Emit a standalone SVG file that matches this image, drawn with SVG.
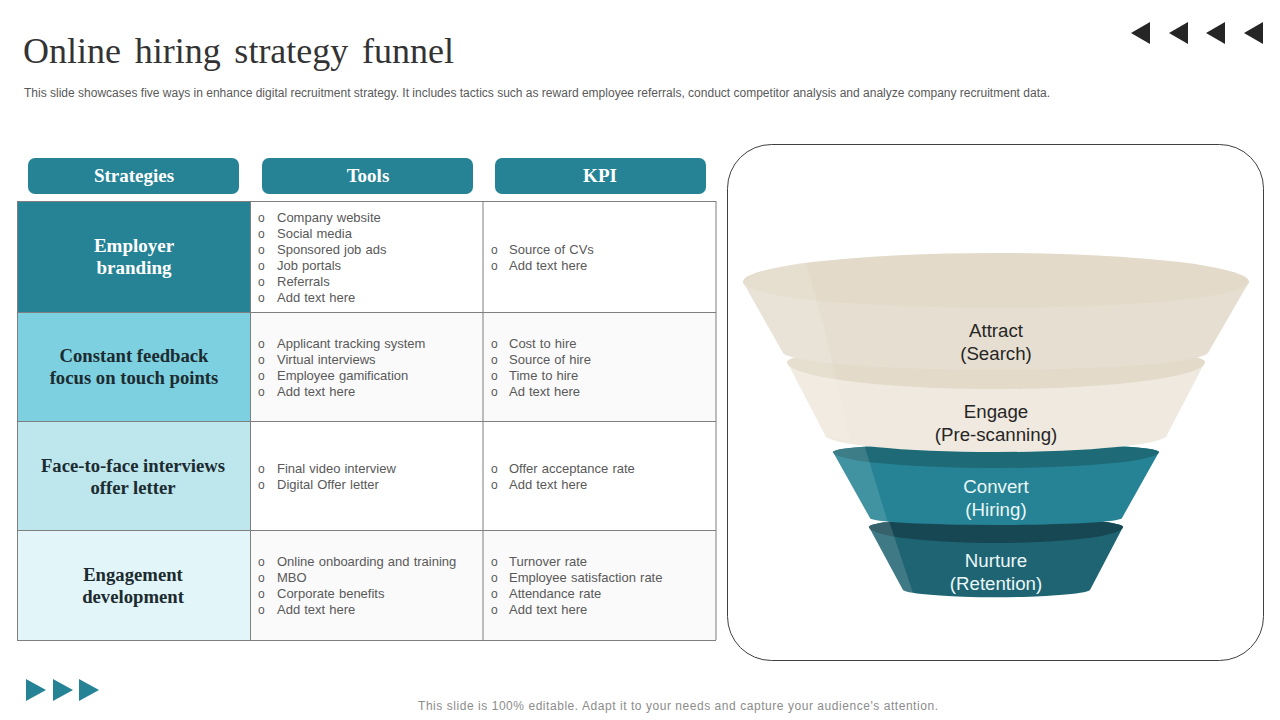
<svg xmlns="http://www.w3.org/2000/svg" width="1280" height="720" viewBox="0 0 1280 720">
<style>
.h{font:bold 19px "Liberation Serif",serif;fill:#fff;text-anchor:middle}
.s{font:bold 18.700px "Liberation Serif",serif;fill:#1c2b30;text-anchor:middle}
.t{font:13px "Liberation Sans",Arial,sans-serif;fill:#595959;word-spacing:.5px}
.b{font:12px "Liberation Sans",Arial,sans-serif;fill:#595959}
.f{font:18.700px "Liberation Sans",Arial,sans-serif;text-anchor:middle}
.g{fill:none;stroke:#7f7f7f;stroke-width:1}
.hb{fill:#258395}
</style>
<defs>
<g id="la"><path d="M0 -11V11L-19 0Z" fill="#262626"/></g>
<g id="ra"><path d="M0 -11V11L20 0Z" fill="#258395"/></g>
</defs>
<rect width="1280" height="720" fill="#fff"/>
<text x="23" y="63" font-family="Liberation Serif,serif" font-size="36" fill="#333" word-spacing="4.700">Online hiring strategy funnel</text>
<text x="24" y="97" font-family="Liberation Sans,Arial,sans-serif" font-size="12" fill="#595959" textLength="1026" lengthAdjust="spacing">This slide showcases five ways in enhance digital recruitment strategy. It includes tactics such as reward employee referrals, conduct competitor analysis and analyze company recruitment data.</text>
<g id="nav-arrows">
<use href="#la" x="1150" y="33"/><use href="#la" x="1188" y="33"/><use href="#la" x="1225" y="33"/><use href="#la" x="1263" y="33"/>
</g>
<g id="headers">
<rect class="hb" x="28" y="158" width="211" height="36" rx="7"/><text class="h" x="134" y="182">Strategies</text>
<rect class="hb" x="262" y="158" width="211" height="36" rx="7"/><text class="h" x="368" y="182">Tools</text>
<rect class="hb" x="495" y="158" width="211" height="36" rx="7"/><text class="h" x="600" y="182">KPI</text>
</g>
<g id="table">
<rect x="17" y="201" width="233" height="111" fill="#258395"/>
<rect x="17" y="312" width="233" height="109" fill="#7dd0df"/>
<rect x="17" y="421" width="233" height="109" fill="#bde6ed"/>
<rect x="17" y="530" width="233" height="110" fill="#e2f5f8"/>
<rect x="250" y="312" width="466" height="109" fill="#fafafa"/>
<rect x="250" y="530" width="466" height="110" fill="#fafafa"/>
<path class="g" d="M17 201.500H716M17 312.500H716M17 421.500H716M17 530.500H716M17 640.500H716M17.500 201V640M250.500 201V640M483 201V640M716 201V640"/>
</g>
<g id="row1">
<text class="h" x="134" y="252">Employer</text><text class="h" x="134" y="274">branding</text>
<text class="b" x="258" y="222">o</text><text class="t" x="277" y="222">Company website</text>
<text class="b" x="258" y="238">o</text><text class="t" x="277" y="238">Social media</text>
<text class="b" x="258" y="254">o</text><text class="t" x="277" y="254">Sponsored job ads</text>
<text class="b" x="258" y="270">o</text><text class="t" x="277" y="270">Job portals</text>
<text class="b" x="258" y="286">o</text><text class="t" x="277" y="286">Referrals</text>
<text class="b" x="258" y="302">o</text><text class="t" x="277" y="302">Add text here</text>
<text class="b" x="491" y="254">o</text><text class="t" x="509" y="254">Source of CVs</text>
<text class="b" x="491" y="270">o</text><text class="t" x="509" y="270">Add text here</text>
</g>
<g id="row2">
<text class="s" x="134" y="362">Constant feedback</text><text class="s" x="134" y="384">focus on touch points</text>
<text class="b" x="258" y="348">o</text><text class="t" x="277" y="348">Applicant tracking system</text>
<text class="b" x="258" y="364">o</text><text class="t" x="277" y="364">Virtual interviews</text>
<text class="b" x="258" y="380">o</text><text class="t" x="277" y="380">Employee gamification</text>
<text class="b" x="258" y="396">o</text><text class="t" x="277" y="396">Add text here</text>
<text class="b" x="491" y="348">o</text><text class="t" x="509" y="348">Cost to hire</text>
<text class="b" x="491" y="364">o</text><text class="t" x="509" y="364">Source of hire</text>
<text class="b" x="491" y="380">o</text><text class="t" x="509" y="380">Time to hire</text>
<text class="b" x="491" y="396">o</text><text class="t" x="509" y="396">Ad text here</text>
</g>
<g id="row3">
<text class="s" x="133" y="472">Face-to-face interviews</text><text class="s" x="133" y="494">offer letter</text>
<text class="b" x="258" y="473">o</text><text class="t" x="277" y="473">Final video interview</text>
<text class="b" x="258" y="489">o</text><text class="t" x="277" y="489">Digital Offer letter</text>
<text class="b" x="491" y="473">o</text><text class="t" x="509" y="473">Offer acceptance rate</text>
<text class="b" x="491" y="489">o</text><text class="t" x="509" y="489">Add text here</text>
</g>
<g id="row4">
<text class="s" x="133" y="581">Engagement</text><text class="s" x="133" y="603">development</text>
<text class="b" x="258" y="566">o</text><text class="t" x="277" y="566">Online onboarding and training</text>
<text class="b" x="258" y="582">o</text><text class="t" x="277" y="582">MBO</text>
<text class="b" x="258" y="598">o</text><text class="t" x="277" y="598">Corporate benefits</text>
<text class="b" x="258" y="614">o</text><text class="t" x="277" y="614">Add text here</text>
<text class="b" x="491" y="566">o</text><text class="t" x="509" y="566">Turnover rate</text>
<text class="b" x="491" y="582">o</text><text class="t" x="509" y="582">Employee satisfaction rate</text>
<text class="b" x="491" y="598">o</text><text class="t" x="509" y="598">Attendance rate</text>
<text class="b" x="491" y="614">o</text><text class="t" x="509" y="614">Add text here</text>
</g>
<rect id="funnel-panel" x="727.500" y="144.500" width="536" height="516" rx="44" fill="#fff" stroke="#404040" stroke-width="1"/>
<g id="nurture">
<path d="M869 527A127 10 0 0 1 1123 527L1090 590A94 8 0 0 1 903 590Z" fill="#1f6472"/>
<path d="M869 527A127 10 0 0 1 1123 527A127 16 0 0 1 869 527Z" fill="#174753"/>
<path d="M869 527Q872 520 888 518L914 596Q908 594 903 590Z" fill="#fff" opacity=".14"/>
<text class="f" x="996" y="567" fill="#eaf7f9">Nurture</text><text class="f" x="996" y="590" fill="#eaf7f9">(Retention)</text>
</g>
<g id="convert">
<path d="M833 452A163 9 0 0 1 1159 452L1122 518A126 7 0 0 1 870 518Z" fill="#258395"/>
<path d="M833 452A163 9 0 0 1 1159 452A163 16 0 0 1 833 452Z" fill="#1f6a77"/>
<path d="M833 452Q838 445 864 444L888 523Q876 521 870 518Z" fill="#fff" opacity=".13"/>
<text class="f" x="996" y="493" fill="#eaf7f9">Convert</text><text class="f" x="996" y="516" fill="#eaf7f9">(Hiring)</text>
</g>
<g id="engage">
<path d="M787 362H1205L1167 435A171 17 0 0 1 825 435Z" fill="#f0e9df"/>
<path d="M787 362A209 17 0 0 1 1205 362A209 27 0 0 1 787 362Z" fill="#e3dac9"/>
<text class="f" x="996" y="418" fill="#262626">Engage</text><text class="f" x="996" y="441" fill="#262626">(Pre-scanning)</text>
</g>
<g id="attract">
<path d="M743 282L783 353A213 18 0 0 0 1208 353L1249 282Z" fill="#e6dfd1"/>
<path d="M743 282A253 29 0 0 1 1249 282A253 26 0 0 1 743 282Z" fill="#e3dac9"/>
<path d="M743 282Q760 267 806 262L826 335L850 441Q835 439 825 435L787 362Z" fill="#fff" opacity=".12"/>
<text class="f" x="996" y="337" fill="#262626">Attract</text><text class="f" x="996" y="360" fill="#262626">(Search)</text>
</g>
<g id="next-arrows">
<use href="#ra" x="26" y="690"/><use href="#ra" x="53" y="690"/><use href="#ra" x="79" y="690"/>
</g>
<text x="678" y="710" text-anchor="middle" font-family="Liberation Sans,Arial,sans-serif" font-size="12" fill="#8c8c8c" textLength="520" lengthAdjust="spacing">This slide is 100% editable. Adapt it to your needs and capture your audience's attention.</text>
</svg>
